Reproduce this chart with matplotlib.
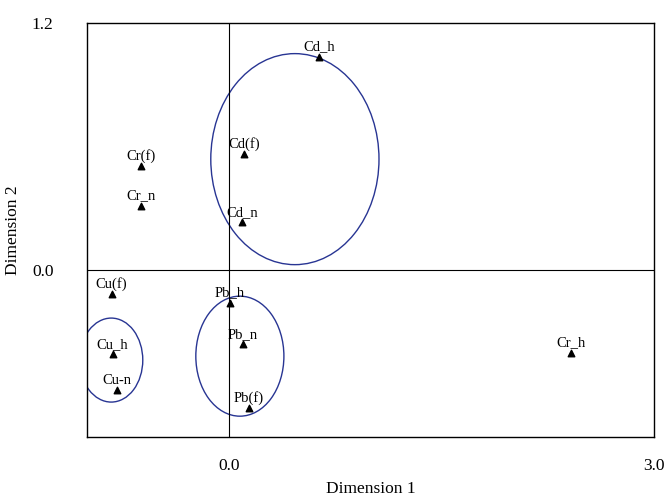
import matplotlib.pyplot as plt
from matplotlib.patches import Ellipse

plt.rcParams['font.family'] = ['Liberation Serif', 'DejaVu Serif']

labels = ['Cd_h', 'Cd(f)', 'Cd_n', 'Cr(f)', 'Cr_n', 'Cu(f)', 'Cu_h', 'Cu-n',
          'Pb_h', 'Pb_n', 'Pb(f)', 'Cr_h']
dim1 = [0.635, 0.106, 0.092, -0.621, -0.621, -0.826, -0.819, -0.790,
        0.007, 0.099, 0.141, 2.414]
dim2 = [1.035, 0.564, 0.233, 0.505, 0.311, -0.117, -0.408, -0.583,
        -0.160, -0.360, -0.670, -0.403]

# cluster ellipses: centre x, centre y, width, height
ell_x = [0.466, -0.829, 0.078]
ell_y = [0.539, -0.437, -0.418]
ell_w = [1.186, 0.445, 0.621]
ell_h = [1.025, 0.408, 0.583]

fig = plt.figure(figsize=(6.69, 5.01), dpi=100)
ax = fig.add_axes([0.130, 0.128, 0.848, 0.826])

ax.axhline(0, color='black', lw=0.8)
ax.axvline(0, color='black', lw=0.8)

for cx, cy, w, h in zip(ell_x, ell_y, ell_w, ell_h):
    ax.add_patch(Ellipse((cx, cy), w, h, fill=False, edgecolor='#283593', lw=1.0))

ax.scatter(dim1, dim2, marker='^', color='black', s=22, zorder=3)
for x, y, t in zip(dim1, dim2, labels):
    ax.annotate(t, (x, y), xytext=(0, 2.5), textcoords='offset points',
                ha='center', va='bottom', fontsize=10.5)

ax.set_xlim(-1.0, 3.0)
ax.set_ylim(-0.81, 1.2)
ax.set_xticks([0.0, 3.0])
ax.set_yticks([0.0, 1.2])
ax.set_xticklabels(['0.0', '3.0'])
ax.set_yticklabels(['0.0', '1.2'])
ax.tick_params(length=0, labelsize=12.5)
ax.tick_params(axis='x', pad=15)
ax.tick_params(axis='y', pad=24)
for s in ax.spines.values():
    s.set_linewidth(1.0)

ax.set_xlabel('Dimension 1', fontsize=12.5, labelpad=5)
ax.set_ylabel('Dimension 2', fontsize=12.5, labelpad=8)

plt.savefig('out.png', dpi=100)
